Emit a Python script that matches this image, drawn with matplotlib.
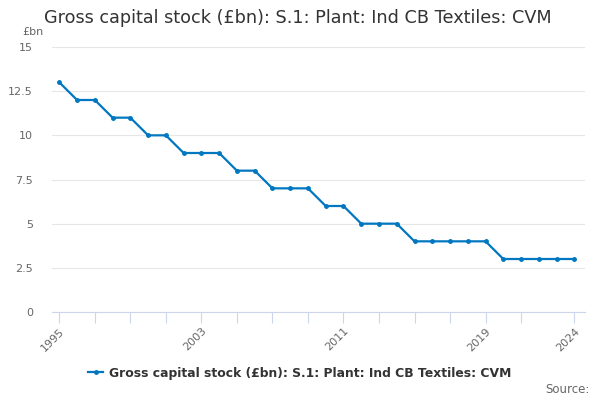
import matplotlib
matplotlib.use('Agg')
import matplotlib.pyplot as plt

years = list(range(1995, 2025))
values = [13, 12, 12, 11, 11, 10, 10, 9, 9, 9, 8, 8, 7, 7, 7,
          6, 6, 5, 5, 5, 4, 4, 4, 4, 4, 3, 3, 3, 3, 3]
tick_years = list(range(1995, 2022, 2)) + [2024]
label_years = [1995, 2003, 2011, 2019, 2024]
y_ticks = [0, 2.5, 5, 7.5, 10, 12.5, 15]
y_labels = ['0', '2.5', '5', '7.5', '10', '12.5', '15']
series_name = 'Gross capital stock (£bn): S.1: Plant: Ind CB Textiles: CVM'

plt.rcParams['font.family'] = ['DejaVu Sans']

fig = plt.figure(figsize=(6, 4), dpi=100)
ax = fig.add_axes([0.087, 0.22, 0.888, 0.6625])

line_color = '#0077c0'
ax.plot(years, values, color=line_color, linewidth=1.6, marker='o', markersize=2.5, label=series_name)

ax.set_xlim(1994.6, 2024.6)
ax.set_ylim(0, 15)
ax.set_yticks(y_ticks)
ax.set_yticklabels(y_labels)
ax.set_xticks(tick_years)
ax.set_xticklabels([str(y) if y in label_years else '' for y in tick_years], rotation=45, ha='right', rotation_mode='anchor')

ax.grid(axis='y', color='#e6e6e6', linewidth=0.8)
ax.set_axisbelow(True)
for s in ['top', 'right', 'left']:
    ax.spines[s].set_visible(False)
ax.spines['bottom'].set_color('#ccd6eb')
ax.tick_params(axis='y', length=0, labelsize=8, labelcolor='#666666', pad=14)
ax.tick_params(axis='x', length=8, color='#ccd6eb', labelsize=8, labelcolor='#666666', pad=2)

fig.text(0.073, 0.955, 'Gross capital stock (£bn): S.1: Plant: Ind CB Textiles: CVM', fontsize=12.7, color='#333333', va='center')
fig.text(0.037, 0.92, '£bn', fontsize=8, color='#666666', va='center')

leg = fig.legend(loc='center', bbox_to_anchor=(0.5, 0.067), frameon=False, prop={'weight': 'bold', 'size': 8.9},
                 handlelength=1.2, handletextpad=0.5)
for t in leg.get_texts():
    t.set_color('#333333')
fig.text(0.982, 0.027, 'Source:', fontsize=8.5, color='#666666', ha='right', va='center')

fig.savefig('out.png', dpi=100)
